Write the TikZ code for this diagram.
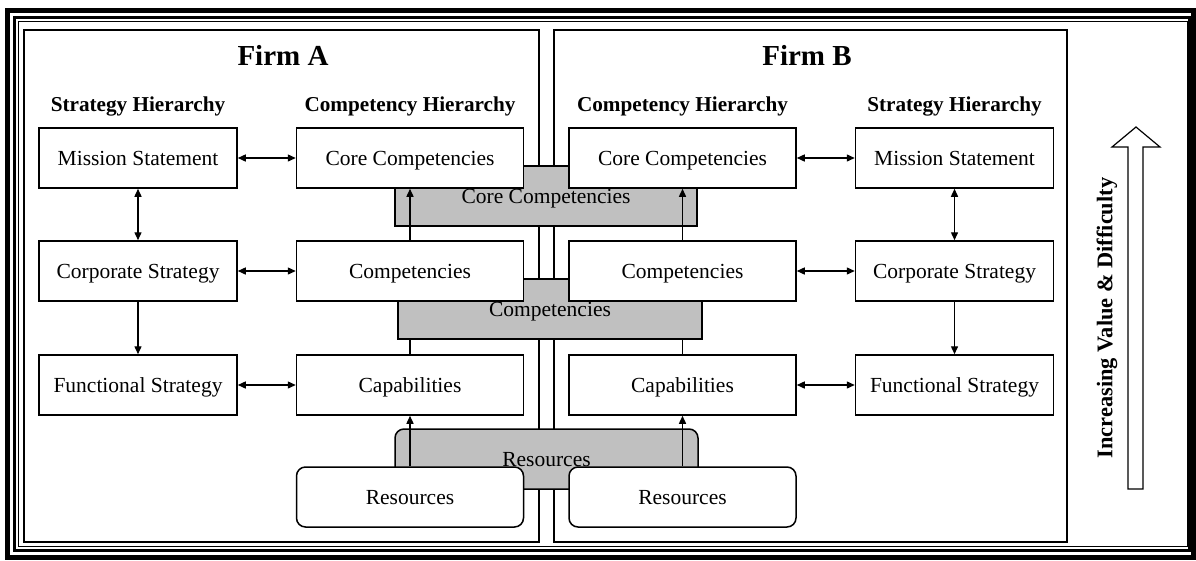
\documentclass[tikz,border=0pt]{standalone}
\usepackage{fontspec}
\setmainfont{Liberation Serif}
\usetikzlibrary{arrows.meta}
\definecolor{shade}{RGB}{192,192,192}
\pgfdeclarelayer{back}
\pgfdeclarelayer{mid}
\pgfsetlayers{back,mid,main}

\begin{document}
\begin{tikzpicture}[x=1pt, y=-1pt,
        every node/.style={font=\fontsize{21.5}{26}\selectfont},
        strat/.style={draw, line width=1.5pt, fill=white, minimum width=198pt, minimum height=60pt,
            inner sep=0pt, text height=14pt, text depth=0pt},
        comp/.style={strat, minimum width=227pt},
        res/.style={comp, rounded corners=9pt},
        layer/.style={draw, line width=1.5pt, fill=shade, minimum height=60pt, inner sep=0pt,
            text height=14pt, text depth=0pt},
        head/.style={font=\bfseries\fontsize{21.2}{26}\selectfont},
        title/.style={font=\bfseries\fontsize{29}{34}\selectfont},
        link/.style={line width=1.4pt, -{Triangle[length=8pt, width=7pt]}},
        both/.style={line width=1.4pt, {Triangle[length=8pt, width=7pt]}-{Triangle[length=8pt, width=7pt]}}]
    \useasboundingbox (0,0) rectangle (1196,560);
    % frame and firms
    \begin{pgfonlayer}{back}
        \fill[white] (0,0) rectangle (1196,560);
        \draw[line width=5pt] (7.5,10.5) rectangle (1193.5,557.5);
        \draw[line width=3pt] (14.5,17.5) rectangle (1189.5,550.5);
        \draw[line width=0.9pt] (18.5,21.5) rectangle (1187,546);
        \draw[line width=1.3pt] (24,30) rectangle (539,542);
        \draw[line width=1.3pt] (554,30) rectangle (1067,542);
    \end{pgfonlayer}
    \node[title] (firmA) at (283,55) {Firm A};
    \node[title] (firmB) at (807,55) {Firm B};
    \node[head] (shA) at (138,106) {Strategy Hierarchy};
    \node[head] (chA) at (410,106) {Competency Hierarchy};
    \node[head] (chB) at (682.5,106) {Competency Hierarchy};
    \node[head] (shB) at (954.5,106) {Strategy Hierarchy};
    % shared layers
    \node[layer, minimum width=302pt] (coreL) at (546,196) {Core Competencies};
    \node[layer, minimum width=304pt] (compL) at (550,309) {Competencies};
    \node[layer, minimum width=303pt, rounded corners=9pt] (resL) at (546.5,459) {Resources};
    % firm A
    \node[strat] (msA) at (138,158) {Mission Statement};
    \node[strat] (csA) at (138,271) {Corporate Strategy};
    \node[strat] (fsA) at (138,385) {Functional Strategy};
    \node[comp] (ccA) at (410,158) {Core Competencies};
    \node[comp] (cpA) at (410,271) {Competencies};
    \node[comp] (cbA) at (410,385) {Capabilities};
    \node[res] (rsA) at (410,497) {Resources};
    % firm B
    \node[comp] (ccB) at (682.5,158) {Core Competencies};
    \node[comp] (cpB) at (682.5,271) {Competencies};
    \node[comp] (cbB) at (682.5,385) {Capabilities};
    \node[res] (rsB) at (682.5,497) {Resources};
    \node[strat] (msB) at (954.5,158) {Mission Statement};
    \node[strat] (csB) at (954.5,271) {Corporate Strategy};
    \node[strat] (fsB) at (954.5,385) {Functional Strategy};
    % links
    \draw[both] (msA) -- (ccA);
    \draw[both] (msA) -- (csA);
    \draw[link] (csA) -- (fsA);
    \draw[both] (csA) -- (cpA);
    \draw[both] (fsA) -- (cbA);
    \draw[link] (cpA) -- (ccA);
    \draw[link] (rsA) -- (cbA);
    \draw[both] (ccB) -- (msB);
    \draw[both] (msB) -- (csB);
    \draw[link] (csB) -- (fsB);
    \draw[both] (cpB) -- (csB);
    \draw[both] (cbB) -- (fsB);
    \draw[link] (cpB) -- (ccB);
    \draw[link] (rsB) -- (cbB);
    \begin{pgfonlayer}{mid}
        \draw[link] (cbA) -- (cpA);
        \draw[link] (cbB) -- (cpB);
    \end{pgfonlayer}
    % value arrow
    \draw[line width=1.2pt, fill=white] (1128,489) -- (1128,147) -- (1112,147) -- (1136,127)
        -- (1160,147) -- (1143,147) -- (1143,489) -- cycle;
    \node[rotate=90, font=\bfseries\fontsize{22.4}{27}\selectfont] (axis) at (1107,318) {Increasing Value \& Difficulty};
\end{tikzpicture}
\end{document}
